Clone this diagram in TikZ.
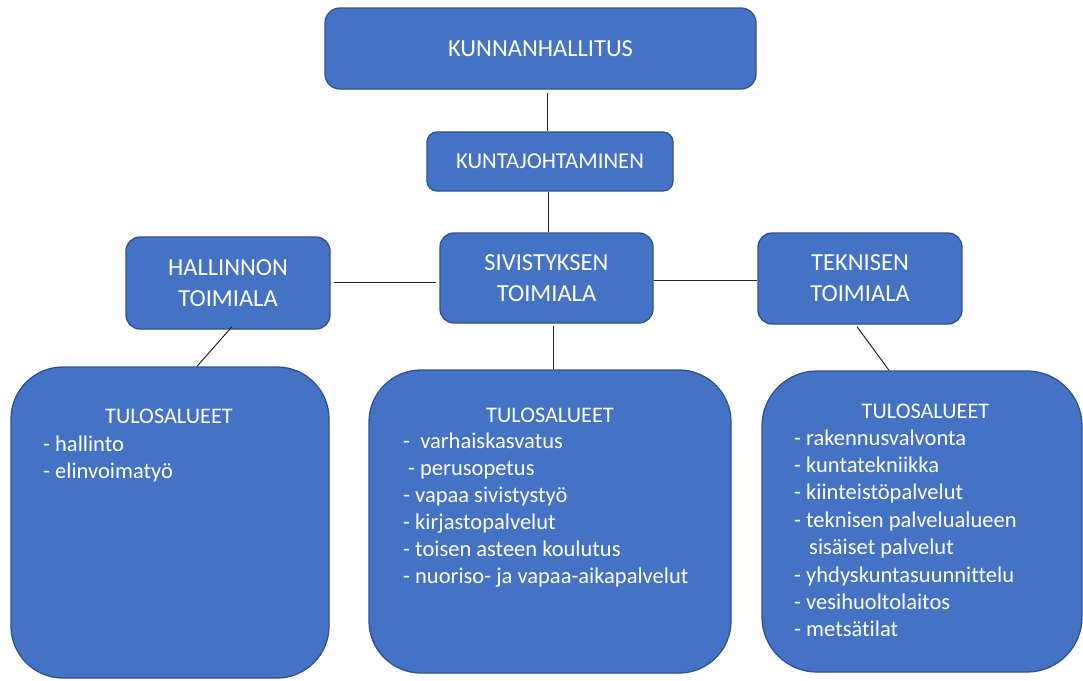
\documentclass[tikz,border=0pt]{standalone}
\usepackage{fontspec}
\setmainfont{Carlito}[Ligatures=NoCommon]
\definecolor{boxfill}{HTML}{4472C4}
\definecolor{boxline}{HTML}{2F528F}
\begin{document}
\begin{tikzpicture}[x=1pt,y=-1pt,
  box/.style={draw=boxline, fill=boxfill, line width=1.3pt, rounded corners=#1, inner sep=0pt, text=white, align=center},
  box/.default=12pt,
  conn/.style={draw=black!85, line width=1pt},
  head/.style={font=\fontsize{24.5}{31}\selectfont},
  mid/.style={font=\fontsize{22.7}{27}\selectfont},
  item/.style={text=white, inner sep=0pt, anchor=base west, font=\fontsize{22.5}{27}\selectfont},
  ttl/.style={text=white, inner sep=0pt, anchor=base, font=\fontsize{22.3}{27}\selectfont}]
\useasboundingbox (0,0) rectangle (1083,680);
% top level
\node[box=15pt, minimum width=431pt, minimum height=81pt, head] (kh) at (540.5,48.5) {KUNNANHALLITUS};
\node[box=10pt, minimum width=246pt, minimum height=59pt, mid] (kj) at (550,161.5) {KUNTAJOHTAMINEN};
% departments
\node[box=14pt, minimum width=204pt, minimum height=92pt, head] (hall) at (228,283) {HALLINNON\\TOIMIALA};
\node[box=14pt, minimum width=213pt, minimum height=90pt, head] (siv) at (546.5,278) {SIVISTYKSEN\\TOIMIALA};
\node[box=14pt, minimum width=204pt, minimum height=91pt, head] (tek) at (860,278.5) {TEKNISEN\\TOIMIALA};
% result areas
\node[box=52pt, minimum width=318pt, minimum height=311pt] (b1) at (170,522.5) {};
\node[box=52pt, minimum width=362pt, minimum height=303pt] (b2) at (550,521.5) {};
\node[box=55pt, minimum width=320pt, minimum height=301pt] (b3) at (922,521.5) {};
% connectors
\draw[conn] ([xshift=6.5pt,yshift=-3pt]kh.south) -- ([xshift=-3pt]kj.north);
\draw[conn] ([xshift=-2pt]kj.south) -- ([xshift=1.5pt]siv.north);
\draw[conn] ([xshift=3pt,yshift=1pt]hall.east) -- ([xshift=-3pt,yshift=1pt]hall.east -| siv.west);
\draw[conn] ([yshift=-2pt]siv.east) -- ([yshift=-2pt]siv.east -| tek.west);
\draw[conn] ([xshift=4pt,yshift=3pt]hall.south) -- ([xshift=27pt]b1.north);
\draw[conn] ([xshift=6.5pt,yshift=-2pt]siv.south) -- ([xshift=6.5pt]siv.south |- b2.north);
\draw[conn] ([xshift=-3pt,yshift=-2pt]tek.south) -- ([xshift=-33pt]b3.north);
% texts box 1
\node[ttl] (t1) at (169,423) {TULOSALUEET};
\node[item] (a1) at (43,451) {- hallinto};
\node[item] (a2) at (43,478) {- elinvoimatyö};
% texts box 2
\node[ttl] (t2) at (550,422) {TULOSALUEET};
\node[item] (s1) at (403,448) {-\ \ varhaiskasvatus};
\node[item] (s2) at (408,475) {- perusopetus};
\node[item] (s3) at (403,502) {- vapaa sivistystyö};
\node[item] (s4) at (403,529) {- kirjastopalvelut};
\node[item] (s5) at (403,556) {- toisen asteen koulutus};
\node[item] (s6) at (403,583) {- nuoriso- ja vapaa-aikapalvelut};
% texts box 3
\node[ttl] (t3) at (925.5,418) {TULOSALUEET};
\node[item] (k1) at (794,445) {- rakennusvalvonta};
\node[item] (k2) at (794,472.4) {- kuntatekniikka};
\node[item] (k3) at (794,499.8) {- kiinteistöpalvelut};
\node[item] (k4) at (794,527.2) {- teknisen palvelualueen};
\node[item] (k5) at (809,554.6) {sisäiset palvelut};
\node[item] (k6) at (794,582) {- yhdyskuntasuunnittelu};
\node[item] (k7) at (794,609.4) {- vesihuoltolaitos};
\node[item] (k8) at (794,636.8) {- metsätilat};
\end{tikzpicture}
\end{document}
